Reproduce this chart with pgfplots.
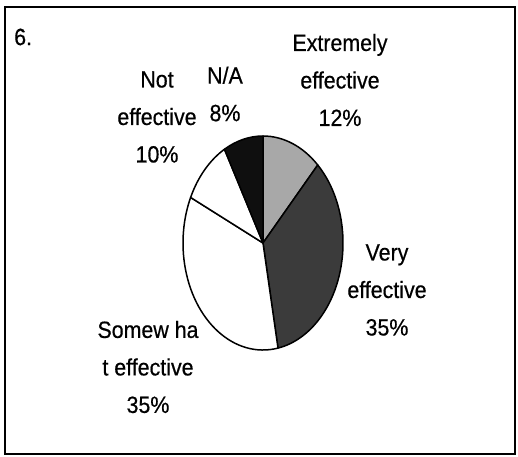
\documentclass[border=0pt]{standalone}
\usepackage{pgfplots}
\usepackage{pgfplotstable}
\usepackage{fontspec}
\setmainfont{Liberation Sans}[FakeStretch=0.91, FakeBold=0.5]
\pgfplotsset{compat=1.18}

\definecolor{pieLight}{gray}{0.66}
\definecolor{pieDark}{gray}{0.23}
\definecolor{pieBlack}{gray}{0.06}

% share of answers, clockwise from 12 o'clock
\pgfplotstableread{
value shade
12 pieLight
35 pieDark
35 white
10 white
8 pieBlack
}\piedata

\begin{document}
\begin{tikzpicture}
\begin{axis}[
    width=518pt, height=456pt, scale only axis,
    xmin=0, xmax=518, ymin=0, ymax=456,
    hide axis, clip=false
]
\path (axis cs:0,0) rectangle (axis cs:518,456);
% frame
\draw[line width=1.6pt] (axis cs:5,2) rectangle (axis cs:515,449);

% pie (elliptical, as in the scan)
\def\startangle{90}
\pgfplotsforeachungrouped \i in {0,1,2,3,4}{%
  \pgfplotstablegetelem{\i}{value}\of\piedata
  \pgfmathsetmacro\endangle{\startangle-3.6*\pgfplotsretval}%
  \pgfplotstablegetelem{\i}{shade}\of\piedata
  \edef\pieslice{\noexpand\filldraw[fill=\pgfplotsretval, draw=black, line width=1.5pt, line join=round]
    (axis cs:263,213) -- ([shift={(\startangle:80pt and 107pt)}]axis cs:263,213)
    arc[start angle=\startangle, end angle=\endangle, x radius=80pt, y radius=107pt] -- cycle;}%
  \pieslice
  \global\let\startangle\endangle
}

\tikzset{lbl/.style={align=center, font=\fontsize{23.5}{37.5}\selectfont, inner sep=0pt}}
\node[lbl, anchor=west] at (axis cs:14,419) {6.};
\node[lbl] at (axis cs:340,376) {Extremely\\effective\\12\%};
\node[lbl] at (axis cs:157,339) {Not\\effective\\10\%};
\node[lbl] at (axis cs:225,362) {N/A\\8\%};
\node[lbl] at (axis cs:387,166) {Very\\effective\\35\%};
\node[lbl] at (axis cs:148,89) {Somew ha\\t effective\\35\%};
\end{axis}
\end{tikzpicture}
\end{document}
